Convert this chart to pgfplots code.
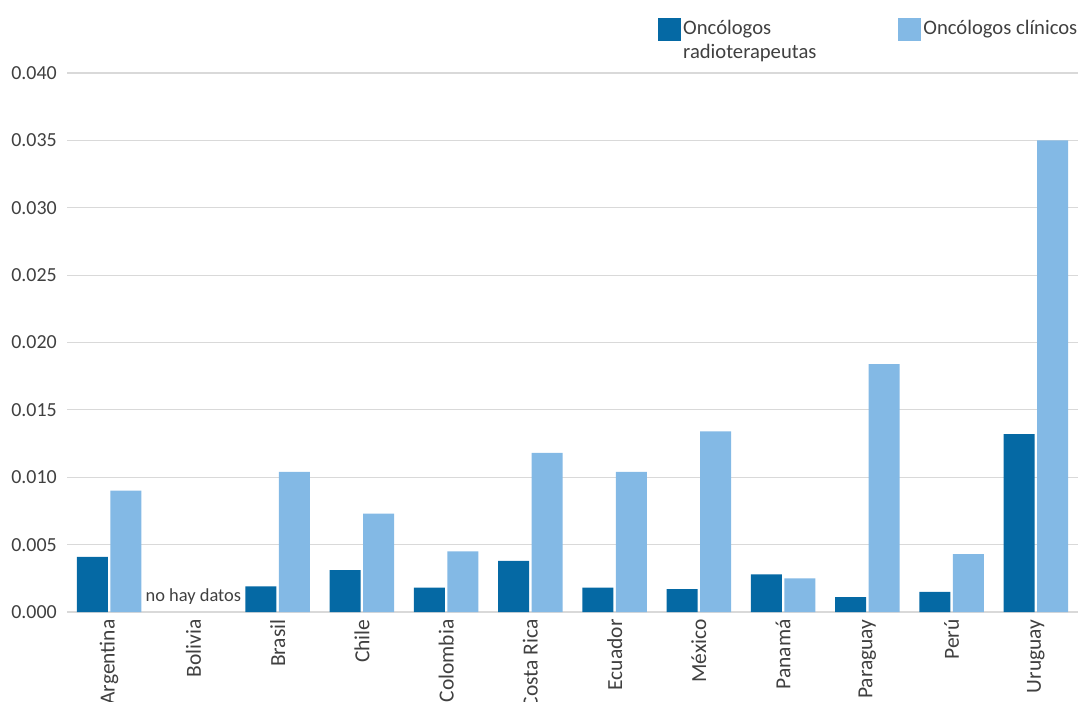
\documentclass[border=0pt]{standalone}
\usepackage{pgfplots}
\pgfplotsset{compat=1.18}
\usepackage{fontspec}
\setmainfont{Carlito}
\definecolor{radio}{HTML}{0569A4}
\definecolor{clin}{HTML}{83B9E5}
\definecolor{gridgray}{HTML}{D9D9D9}
\definecolor{txt}{HTML}{404040}
\begin{document}
\begin{tikzpicture}[font=\fontsize{20}{23}\selectfont, text=txt]
\clip (-67bp,-90bp) rectangle (1011bp,612bp);
\begin{axis}[
  scale only axis,
  width=1011bp, height=539bp,
  xmin=-0.5, xmax=11.5,
  ymin=0, ymax=0.040,
  scaled y ticks=false,
  xtick={0,...,11},
  xticklabels={Argentina,Bolivia,Brasil,Chile,Colombia,Costa Rica,Ecuador,México,Panamá,Paraguay,Perú,Uruguay},
  xticklabel style={rotate=90, anchor=east, inner sep=0pt, font=\fontsize{21.6}{24}\selectfont},
  xtick style={draw=none},
  ytick={0,0.005,0.010,0.015,0.020,0.025,0.030,0.035,0.040},
  yticklabels={0.000,0.005,0.010,0.015,0.020,0.025,0.030,0.035,0.040},
  yticklabel style={anchor=east, inner sep=0pt},
  ytick style={draw=none},
  tick label style={text=txt},
  x tick label style={xshift=-3bp},
  y tick label style={xshift=-10bp},
  ymajorgrids,
  major grid style={gridgray, line width=1.2bp},
  axis line style={draw=none},
  ybar, bar width=0.368,
  legend columns=2,
  legend style={at={(0.5846,1.1076)}, anchor=north west, draw=none, fill=none,
    inner sep=0pt, font=\fontsize{20.7}{23.5}\selectfont,
    cells={anchor=north west, align=left, text=txt, yshift=-3bp},
    /tikz/every even column/.append style={column sep=80bp}},
  legend image code/.code={\fill[#1] (-4bp,0bp) rectangle (19bp,-23bp);},
]
\addplot[fill=radio, draw=none, bar shift=-0.2] coordinates {
  (0,0.0041) (2,0.0019) (3,0.0031) (4,0.0018) (5,0.0038) (6,0.0018)
  (7,0.0017) (8,0.0028) (9,0.0011) (10,0.0015) (11,0.0132)};
\addlegendentry{Oncólogos\\radioterapeutas}
\addplot[fill=clin, draw=none, bar shift=0.2] coordinates {
  (0,0.0090) (2,0.0104) (3,0.0073) (4,0.0045) (5,0.0118) (6,0.0104)
  (7,0.0134) (8,0.0025) (9,0.0184) (10,0.0043) (11,0.0350)};
\addlegendentry{Oncólogos clínicos}
\node[anchor=base, text=txt, font=\fontsize{18.5}{20}\selectfont] at (axis cs:1,0.00075) {no hay datos};
\end{axis}
\end{tikzpicture}
\end{document}
